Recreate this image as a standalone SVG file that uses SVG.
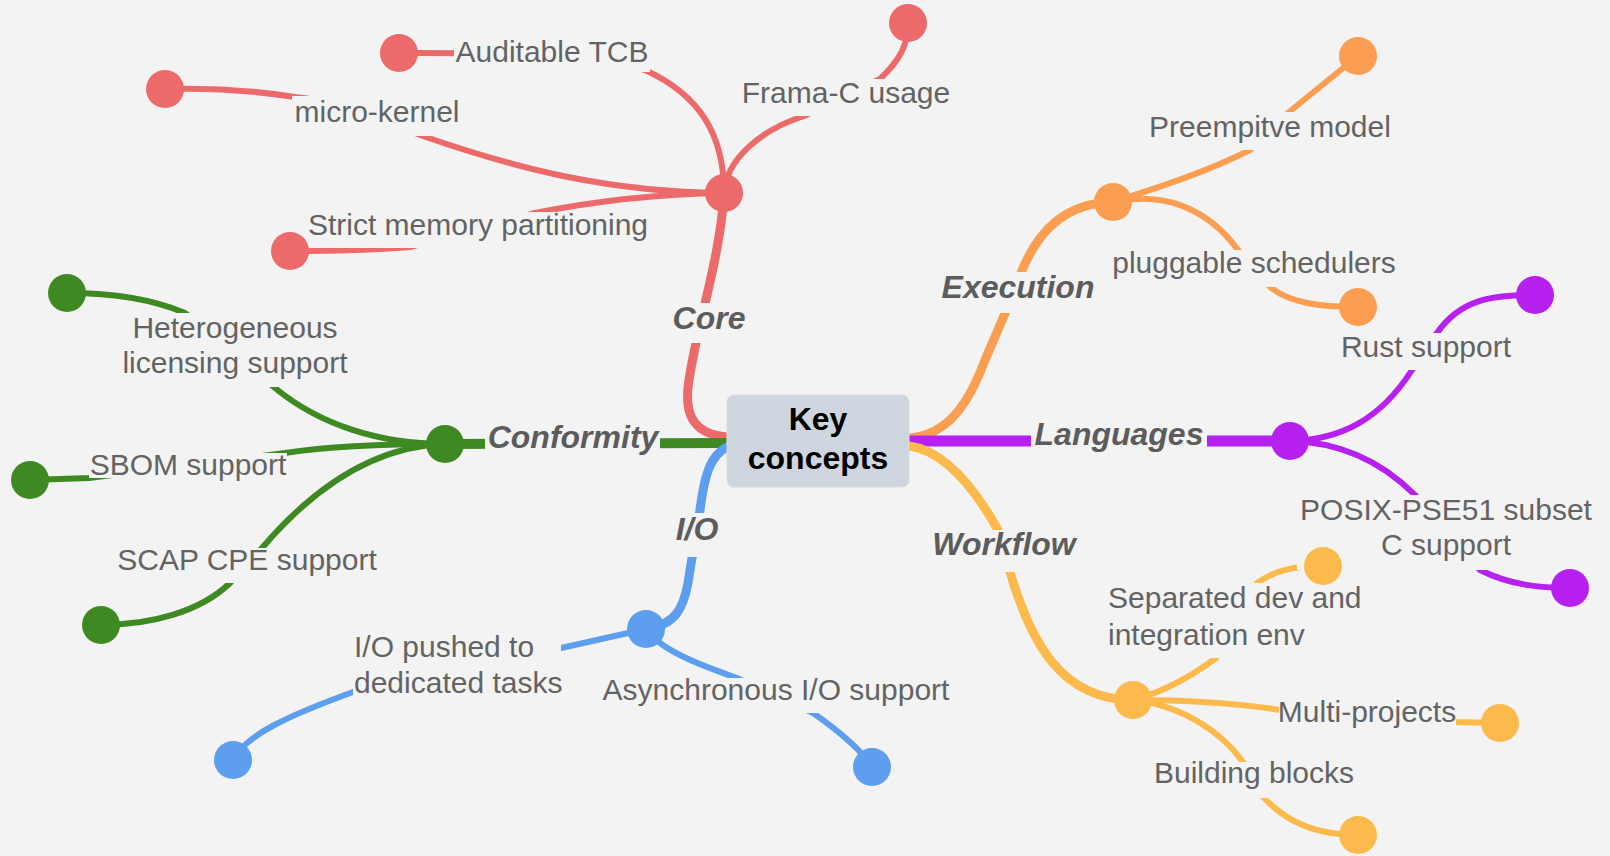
<svg xmlns="http://www.w3.org/2000/svg" width="1610" height="856" viewBox="0 0 1610 856">
<style>
.lbl{font-family:"Liberation Sans",Arial,sans-serif;font-size:30px;fill:#636363;text-anchor:middle}
.lft{text-anchor:start}
.br{font-family:"Liberation Sans",Arial,sans-serif;font-size:32px;font-weight:bold;font-style:italic;fill:#5c5c5c;text-anchor:middle}
.bg{fill:#f3f3f3}
.c{fill:none;stroke-linecap:round;stroke-linejoin:round}
.m{stroke-width:9}
.s{stroke-width:6}
.red{stroke:#ec6a6a}.redf{fill:#ec6a6a}
.grn{stroke:#3f8922}.grnf{fill:#3f8922}
.blu{stroke:#5d9fee}.bluf{fill:#5d9fee}
.org{stroke:#fc9e52}.orgf{fill:#fc9e52}
.pur{stroke:#b621ef}.purf{fill:#b621ef}
.yel{stroke:#fdba4c}.yelf{fill:#fdba4c}
</style>
<rect width="1610" height="856" fill="#f3f3f3"/>
<g id="connectors">
<path class="c m red" d="M727,437 C690,434 684,410 689,380 C698,320 720,260 724,193"/>
<path class="c s red" d="M724,193 C724,135 700,95 645,70 C580,52 500,53 399,53"/>
<path class="c s red" d="M724,193 C610,192 520,170 420,135 C380,118 330,100 295,97 C250,90 200,88 165,89"/>
<path class="c s red" d="M724,193 C650,194 580,204 535,213 L410,247 C360,251 320,251 290,251"/>
<path class="c s red" d="M724,193 C726,160 760,130 804,116 L880,79 C900,60 908,45 908,23"/>
<path class="c m grn" d="M727,443 L445,444" style="stroke-width:10"/>
<path class="c s grn" d="M445,444 C380,444 320,425 275,388 L185,313 C150,298 110,293 67,293"/>
<path class="c s grn" d="M445,444 C380,444 330,446 285,453 L89,478 L30,480"/>
<path class="c s grn" d="M445,444 C380,446 320,480 262,548 L230,583 C200,612 150,625 101,625"/>
<path class="c m blu" d="M727,447 C712,455 705,470 700,510 L690,570 C685,610 675,625 646,629"/>
<path class="c s blu" d="M646,629 L561,648 L353,692 C290,715 245,735 233,760"/>
<path class="c s blu" d="M646,629 C660,650 700,665 737,678 L813,713 C845,735 865,755 872,767"/>
<path class="c m org" d="M909,438 C950,435 970,400 985,360 L1015,290 C1035,225 1070,203 1113,202"/>
<path class="c s org" d="M1113,202 C1150,190 1200,175 1250,150 L1289,112 L1358,56"/>
<path class="c s org" d="M1113,202 C1160,192 1205,205 1238,250 L1270,287 C1290,303 1320,307 1358,307"/>
<path class="c m pur" d="M909,441 L1290,441" style="stroke-width:11"/>
<path class="c s pur" d="M1290,441 C1340,440 1380,420 1412,370 L1437,333 C1460,300 1490,295 1535,295"/>
<path class="c s pur" d="M1290,441 C1340,442 1380,460 1415,495 L1480,570 C1510,585 1540,588 1570,588"/>
<path class="c m yel" d="M909,446 C940,450 970,480 998,530 L1010,572 C1030,640 1060,700 1133,700"/>
<path class="c s yel" d="M1133,700 C1170,690 1200,670 1216,658 L1257,583 C1275,570 1295,566 1323,566"/>
<path class="c s yel" d="M1133,700 C1180,700 1230,702 1280,710 L1456,722 L1500,723"/>
<path class="c s yel" d="M1133,700 C1180,705 1220,730 1243,762 L1264,798 C1290,825 1320,835 1358,835"/>
</g>
<g id="key-concepts">
<rect x="727" y="395" width="182" height="92" rx="7" fill="#cfd5de" stroke="#d8dde3" stroke-width="1"/>
<text x="818" y="430" font-family="Liberation Sans,Arial,sans-serif" font-size="32" font-weight="bold" fill="#000" text-anchor="middle">Key</text>
<text x="818" y="469" font-family="Liberation Sans,Arial,sans-serif" font-size="32" font-weight="bold" fill="#000" text-anchor="middle">concepts</text>
</g>
<g id="core">
<rect class="bg" x="670" y="303" width="78" height="40"/>
<text class="br" x="709" y="329">Core</text>
<circle class="redf" cx="724" cy="193" r="19"/>
</g>
<g id="auditable-tcb">
<rect class="bg" x="454" y="36" width="196" height="36"/>
<text class="lbl" x="552" y="62">Auditable TCB</text>
<circle class="redf" cx="399" cy="53" r="19"/>
</g>
<g id="micro-kernel">
<rect class="bg" x="292" y="96" width="170" height="40"/>
<text class="lbl" x="377" y="122">micro-kernel</text>
<circle class="redf" cx="165" cy="89" r="19"/>
</g>
<g id="strict-memory">
<rect class="bg" x="306" y="212" width="344" height="36"/>
<text class="lbl" x="478" y="235">Strict memory partitioning</text>
<circle class="redf" cx="290" cy="251" r="19"/>
</g>
<g id="frama-c">
<rect class="bg" x="740" y="79" width="212" height="37"/>
<text class="lbl" x="846" y="103">Frama-C usage</text>
<circle class="redf" cx="908" cy="23" r="19"/>
</g>
<g id="conformity">
<rect class="bg" x="485" y="420" width="175" height="40"/>
<text class="br" x="573" y="448">Conformity</text>
<circle class="grnf" cx="445" cy="444" r="19"/>
</g>
<g id="heterogeneous">
<rect class="bg" x="115" y="313" width="238" height="74"/>
<text class="lbl" x="235" y="338">Heterogeneous</text>
<text class="lbl" x="235" y="373">licensing support</text>
<circle class="grnf" cx="67" cy="293" r="19"/>
</g>
<g id="sbom">
<rect class="bg" x="89" y="453" width="198" height="25"/>
<text class="lbl" x="188" y="475">SBOM support</text>
<circle class="grnf" cx="30" cy="480" r="19"/>
</g>
<g id="scap">
<rect class="bg" x="114" y="548" width="266" height="35"/>
<text class="lbl" x="247" y="570">SCAP CPE support</text>
<circle class="grnf" cx="101" cy="625" r="19"/>
</g>
<g id="io">
<rect class="bg" x="672" y="513" width="50" height="44"/>
<text class="br" x="697" y="540">I/O</text>
<circle class="bluf" cx="646" cy="629" r="19"/>
</g>
<g id="io-pushed">
<rect class="bg" x="353" y="636" width="208" height="68"/>
<text class="lbl lft" x="354" y="657">I/O pushed to</text>
<text class="lbl lft" x="354" y="693">dedicated tasks</text>
<circle class="bluf" cx="233" cy="760" r="19"/>
</g>
<g id="async-io">
<rect class="bg" x="600" y="678" width="352" height="35"/>
<text class="lbl" x="776" y="700">Asynchronous I/O support</text>
<circle class="bluf" cx="872" cy="767" r="19"/>
</g>
<g id="execution">
<rect class="bg" x="939" y="272" width="160" height="41"/>
<text class="br" x="1018" y="298">Execution</text>
<circle class="orgf" cx="1113" cy="202" r="19"/>
</g>
<g id="preemptive">
<rect class="bg" x="1147" y="112" width="246" height="38"/>
<text class="lbl" x="1270" y="137">Preempitve model</text>
<circle class="orgf" cx="1358" cy="56" r="19"/>
</g>
<g id="pluggable">
<rect class="bg" x="1111" y="250" width="287" height="37"/>
<text class="lbl" x="1254" y="273">pluggable schedulers</text>
<circle class="orgf" cx="1358" cy="307" r="19"/>
</g>
<g id="languages">
<rect class="bg" x="1031" y="420" width="176" height="40"/>
<text class="br" x="1119" y="445">Languages</text>
<circle class="purf" cx="1290" cy="441" r="19"/>
</g>
<g id="rust">
<rect class="bg" x="1339" y="333" width="174" height="37"/>
<text class="lbl" x="1426" y="357">Rust support</text>
<circle class="purf" cx="1535" cy="295" r="19"/>
</g>
<g id="posix">
<rect class="bg" x="1297" y="495" width="298" height="75"/>
<text class="lbl" x="1446" y="520">POSIX-PSE51 subset</text>
<text class="lbl" x="1446" y="555">C support</text>
<circle class="purf" cx="1570" cy="588" r="19"/>
</g>
<g id="workflow">
<rect class="bg" x="928" y="530" width="153" height="42"/>
<text class="br" x="1004" y="555">Workflow</text>
<circle class="yelf" cx="1133" cy="700" r="19"/>
</g>
<g id="separated">
<rect class="bg" x="1105" y="583" width="260" height="75"/>
<text class="lbl lft" x="1108" y="608">Separated dev and</text>
<text class="lbl lft" x="1108" y="645">integration env</text>
<circle class="yelf" cx="1323" cy="566" r="19"/>
</g>
<g id="multi-projects">
<rect class="bg" x="1279" y="699" width="177" height="34"/>
<text class="lbl" x="1367" y="722">Multi-projects</text>
<circle class="yelf" cx="1500" cy="723" r="19"/>
</g>
<g id="building-blocks">
<rect class="bg" x="1151" y="762" width="206" height="36"/>
<text class="lbl" x="1254" y="783">Building blocks</text>
<circle class="yelf" cx="1358" cy="835" r="19"/>
</g>
</svg>
